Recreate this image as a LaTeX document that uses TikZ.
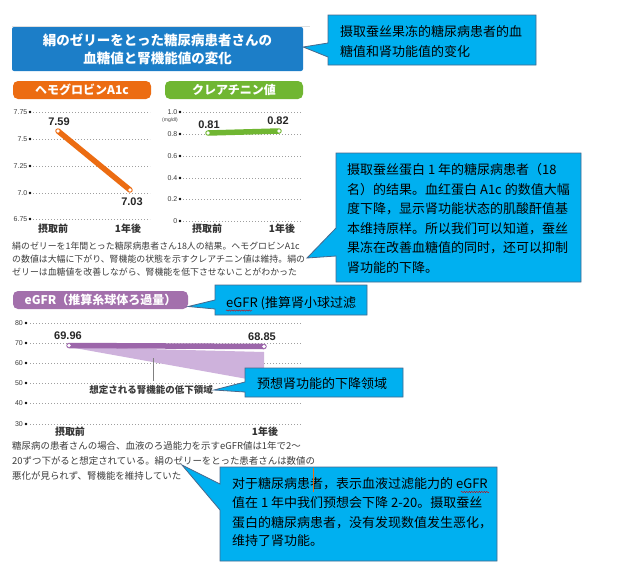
\documentclass[tikz,border=0pt]{standalone}
\usepackage{fontspec}
\setmainfont{Liberation Sans}
\newfontfamily\jpfont{Noto Sans CJK JP}
\newfontfamily\zhfont{Noto Sans CJK SC}
\usetikzlibrary{decorations.pathmorphing}
\definecolor{titleblue}{RGB}{28,126,200}
\definecolor{orangeC}{RGB}{236,108,18}
\definecolor{greenC}{RGB}{112,182,50}
\definecolor{purpleP}{RGB}{163,112,172}
\definecolor{purpleL}{RGB}{156,102,170}
\definecolor{purpleA}{RGB}{206,178,220}
\definecolor{calloutblue}{RGB}{0,176,240}
\definecolor{calloutedge}{RGB}{72,104,140}
\definecolor{textgray}{RGB}{60,60,60}
\begin{document}
\begin{tikzpicture}[x=1pt,y=-1pt,
  ytick/.style={font=\fontsize{7}{8}\selectfont, text=textgray, anchor=east, inner sep=0},
  tickdot/.style={circle, fill=black, inner sep=0, minimum size=2.6pt},
  gridline/.style={gray!75, line width=0.5pt, dash pattern=on 0.7pt off 2.3pt},
  val/.style={font=\fontsize{11}{12}\selectfont\bfseries, text=black!85, inner sep=0},
  xlab/.style={font=\jpfont\bfseries\fontsize{10}{11}\selectfont, text=black!80, inner sep=0},
  body/.style={font=\jpfont\fontsize{8.9}{10}\selectfont, text=textgray, anchor=base west, inner sep=0},
  bodyb/.style={font=\jpfont\fontsize{9.45}{10}\selectfont, text=textgray, anchor=base west, inner sep=0},
  zh/.style={font=\zhfont\fontsize{13}{14}\selectfont, text=black, anchor=base west, inner sep=0},
  callout/.style={fill=calloutblue, draw=calloutedge, line width=0.8pt, line join=miter},
  pill/.style={rectangle, rounded corners=5pt, minimum height=18pt, inner sep=0, text=white,
    font=\jpfont\bfseries\fontsize{12}{13}\selectfont},
  endpt/.style={circle, fill=white, inner sep=0, minimum size=3.6pt},
  wavy/.style={red!85!black, line width=0.4pt, decorate, decoration={snake, amplitude=0.7pt, segment length=2.5pt}}
]
\useasboundingbox[fill=white] (0,0) rectangle (630,563);

% ---------- header ----------
\draw[gray!25, line width=0.6pt] (12,26) -- (310,26);
\node[rectangle, rounded corners=2pt, fill=titleblue, minimum width=291pt, minimum height=44pt,
  text=white, align=center, font=\jpfont\bfseries\fontsize{13.5}{18}\selectfont] (title) at (157.5,49)
  {絹のゼリーをとった糖尿病患者さんの\\血糖値と腎機能値の変化};

\node[pill, fill=orangeC, minimum width=138pt] (pillA) at (82,90) {ヘモグロビンA1c};
\node[pill, fill=greenC, minimum width=138pt] (pillB) at (234,90) {クレアチニン値};

% ---------- A1c chart ----------
\foreach \v/\y [count=\i] in {7.75/112,7.5/139,7.25/166,7.0/193,6.75/219}{
  \draw[gridline] (33,\y) -- (150,\y);
  \node[tickdot] (adot\i) at (30,\y) {};
  \node[ytick] (alab\i) at (27.5,\y) {\v};
}
\coordinate (a1) at (58,131);
\coordinate (a2) at (130,190);
\draw[orangeC, line width=5.5pt, line cap=round] (a1) -- (a2);
\node[endpt] (a1c) at (a1) {};
\node[endpt] (a2c) at (a2) {};
\node[val] (v759) at (59,122) {7.59};
\node[val] (v703) at (132,202) {7.03};
\node[xlab] (ax1) at (53,229) {摂取前};
\node[xlab] (ax2) at (128,229) {1年後};

% ---------- creatinine chart ----------
\foreach \v/\y [count=\i] in {1.0/112,0.8/134,0.6/156,0.4/178,0.2/199,0/221}{
  \draw[gridline] (183,\y) -- (302,\y);
  \node[tickdot] (cdot\i) at (180,\y) {};
  \node[ytick] (clab\i) at (177.5,\y) {\v};
}
\node[font=\fontsize{5}{6}\selectfont, text=textgray, inner sep=0] (unit) at (170,120.5) {(mg/dl)};
\coordinate (c1) at (208,133);
\coordinate (c2) at (279,131);
\draw[greenC, line width=5.5pt, line cap=round] (c1) -- (c2);
\node[endpt] (c1c) at (c1) {};
\node[endpt] (c2c) at (c2) {};
\node[val] (v081) at (209,125) {0.81};
\node[val] (v082) at (278,121) {0.82};
\node[xlab] (cx1) at (207,229) {摂取前};
\node[xlab] (cx2) at (282,229) {1年後};

% ---------- text block 1 ----------
\node[body] (t1a) at (12,249.5) {絹のゼリーを1年間とった糖尿病患者さん18人の結果。ヘモグロビンA1c};
\node[body] (t1b) at (12,262.5) {の数値は大幅に下がり、腎機能の状態を示すクレアチニン値は維持。絹の};
\node[body] (t1c) at (12,275.5) {ゼリーは血糖値を改善しながら、腎機能を低下させないことがわかった};

% ---------- eGFR ----------
\node[pill, fill=purpleP, minimum width=175pt] (pillC) at (100.5,300) {eGFR（推算糸球体ろ過量）};
\foreach \v/\y [count=\i] in {80/323,70/343,60/363,50/383,40/403,30/424}{
  \draw[gridline] (30,\y) -- (302,\y);
  \node[tickdot] (edot\i) at (26,\y) {};
  \node[ytick] (elab\i) at (23,\y) {\v};
}
\coordinate (e1) at (69,345.5);
\coordinate (e2) at (264,346.5);
\fill[purpleA] (69,347) -- (264,352) -- (264,382) -- cycle;
\draw[purpleL, line width=5.5pt, line cap=round] (e1) -- (e2);
\node[endpt] (e1c) at (e1) {};
\node[endpt] (e2c) at (e2) {};
\node[val] (v6996) at (68,336) {69.96};
\node[val] (v6885) at (262,337) {68.85};
\coordinate (stemtop) at (153,358);
\node[font=\jpfont\bfseries\fontsize{9.5}{10}\selectfont, text=textgray, inner sep=1pt] (declab) at (151,390) {想定される腎機能の低下領域};
\draw[gray, line width=0.8pt] (stemtop) -- (153,381);
\node[xlab] (ex1) at (70,432) {摂取前};
\node[xlab] (ex2) at (265,432) {1年後};

% ---------- text block 2 ----------
\node[bodyb] (t2a) at (12,449.5) {糖尿病の患者さんの場合、血液のろ過能力を示すeGFR値は1年で2～};
\node[bodyb] (t2b) at (12,464.5) {20ずつ下がると想定されている。絹のゼリーをとった患者さんは数値の};
\node[bodyb] (t2c) at (12,479.5) {悪化が見られず、腎機能を維持していた};

% ---------- callouts ----------
% callout 1
\filldraw[callout] (328,15) -- (536,15) -- (536,65) -- (328,65) -- (328,57) -- (title.east |- 0,47) -- (328,43) -- cycle;
\node[zh] (k1a) at (340,36) {摄取蚕丝果冻的糖尿病患者的血};
\node[zh] (k1b) at (340,56) {糖值和肾功能值的变化};

% callout 2
\coordinate (tip2) at (307,258);
\filldraw[callout] (336,153) -- (581,153) -- (581,282) -- (336,282) -- (336,256) -- (tip2) -- (336,228) -- cycle;
\node[zh] (k2a) at (347,174.5) {摄取蚕丝蛋白 1 年的糖尿病患者（18};
\node[zh] (k2b) at (347,194) {名）的结果。血红蛋白 A1c 的数值大幅};
\node[zh] (k2c) at (347,213.5) {度下降，显示肾功能状态的肌酸酐值基};
\node[zh] (k2d) at (347,233) {本维持原样。所以我们可以知道，蚕丝};
\node[zh] (k2e) at (347,252.5) {果冻在改善血糖值的同时，还可以抑制};
\node[zh] (k2f) at (347,272) {肾功能的下降。};

% callout 3
\filldraw[callout] (215,285) -- (367,285) -- (367,315) -- (215,315) -- (215,309) -- (pillC.east |- 0,306.5) -- (215,300) -- cycle;
\node[zh] (k3a) at (226,307) {eGFR (推算肾小球过滤};
\draw[wavy] (226,310.5) -- (252,310.5);

% callout 4
\filldraw[callout] (245,368) -- (403,368) -- (403,397) -- (245,397) -- (245,392) -- (declab.east) -- (245,382) -- cycle;
\node[zh] (k4a) at (257,388) {预想肾功能的下降领域};

% callout 5
\coordinate (tip5) at (182,465);
\filldraw[callout] (220,467) -- (497,467) -- (497,561) -- (220,561) -- (220,510) -- (tip5) -- (220,484) -- cycle;
\node[zh] (k5a) at (232,488) {对于糖尿病患者，表示血液过滤能力的 eGFR};
\node[zh] (k5b) at (232,507) {值在 1 年中我们预想会下降 2-20。摄取蚕丝};
\node[zh] (k5c) at (232,527) {蛋白的糖尿病患者，没有发现数值发生恶化，};
\node[zh] (k5d) at (232,545) {维持了肾功能。};
\draw[wavy] (461,492) -- (489,492);
\draw[orangeC, line width=0.9pt] (313,468) -- (313,492);
\end{tikzpicture}
\end{document}
